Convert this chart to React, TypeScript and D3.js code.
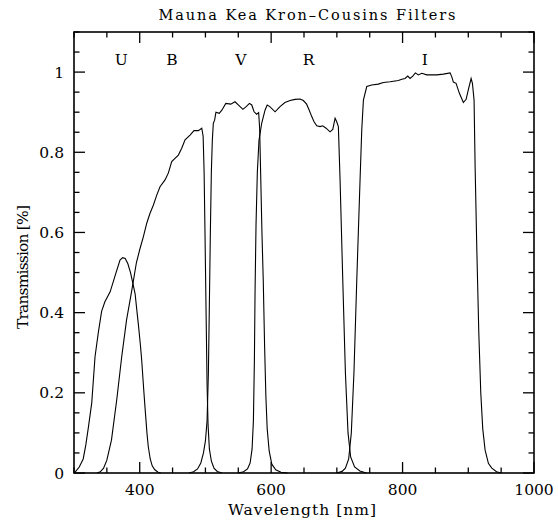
import React from "react";
import * as d3 from "d3";

const uFilter: [number, number][] = [
  [300, 0], [302, 0.003], [308, 0.015], [314, 0.035], [318, 0.07], [322, 0.115], [327, 0.175],
  [332, 0.29], [337, 0.35], [342, 0.403], [347, 0.427], [355, 0.452], [362, 0.489], [370, 0.531],
  [374, 0.537], [378, 0.535], [382, 0.522], [386, 0.5], [390, 0.47], [393, 0.447], [396, 0.4],
  [398, 0.37], [401, 0.32], [403, 0.282], [406, 0.21], [408, 0.165], [411, 0.1], [413, 0.066],
  [416, 0.035], [419, 0.018], [423, 0.008], [428, 0.002], [432, 0],
];

const bFilter: [number, number][] = [
  [335, 0], [340, 0.003], [345, 0.012], [350, 0.032], [357, 0.082], [365, 0.182], [372.6, 0.29],
  [380, 0.382], [388, 0.456], [395, 0.525], [400.5, 0.56], [405.5, 0.589], [410.7, 0.623],
  [415.7, 0.648], [420.7, 0.668], [425.9, 0.693], [430.9, 0.714], [438.5, 0.731], [443.5, 0.748],
  [448.7, 0.777], [453.7, 0.785], [458.8, 0.793], [463.9, 0.81], [469, 0.831], [476.6, 0.843],
  [482.6, 0.854], [489.2, 0.854], [494.4, 0.86], [496.5, 0.84], [498, 0.75], [499.5, 0.58],
  [501, 0.4], [502.5, 0.22], [504, 0.12], [506, 0.06], [509, 0.03], [513, 0.012], [518, 0.004],
  [525, 0],
];

const vFilter: [number, number][] = [
  [475, 0], [482, 0.003], [488, 0.01], [493, 0.025], [497, 0.05], [500, 0.08], [502.5, 0.13],
  [504.5, 0.25], [506, 0.42], [507.5, 0.6], [509, 0.75], [510.5, 0.83], [512, 0.872], [514, 0.88],
  [516, 0.9], [521, 0.897], [525, 0.905], [531, 0.922], [538.5, 0.92], [545, 0.926], [550, 0.918],
  [557, 0.907], [562, 0.914], [567, 0.922], [570.5, 0.918], [574, 0.901], [578, 0.895], [581, 0.899],
  [582.5, 0.86], [584, 0.75], [586, 0.6], [588, 0.48], [590, 0.32], [592, 0.19], [594, 0.11],
  [597, 0.055], [601, 0.022], [607, 0.008], [615, 0.002], [625, 0],
];

const rFilter: [number, number][] = [
  [550, 0], [558, 0.003], [564, 0.01], [568, 0.025], [571, 0.06], [573, 0.13], [574.5, 0.28],
  [575.5, 0.45], [577, 0.62], [579, 0.75], [581.5, 0.83], [585.7, 0.873], [590.7, 0.905],
  [594, 0.918], [598, 0.914], [606, 0.901], [613.5, 0.914], [621, 0.924], [628.8, 0.929],
  [636.4, 0.932], [644, 0.933], [649, 0.929], [654, 0.92], [658, 0.905], [661.8, 0.889],
  [665.3, 0.876], [669.4, 0.866], [674.4, 0.864], [678.5, 0.866], [683.6, 0.86], [689.6, 0.851],
  [693.8, 0.857], [697.3, 0.885], [699.8, 0.876], [702.3, 0.864], [704.9, 0.731], [709, 0.481],
  [713, 0.25], [717, 0.1], [721, 0.04], [727, 0.015], [735, 0.005], [745, 0],
];

const iFilter: [number, number][] = [
  [700, 0], [708, 0.004], [713, 0.012], [718, 0.035], [722, 0.1], [726, 0.25], [730.3, 0.481],
  [735.3, 0.731], [737.9, 0.856], [740.4, 0.93], [745.5, 0.964], [753, 0.968], [763, 0.97],
  [770.8, 0.974], [781, 0.976], [793.6, 0.979], [798.8, 0.982], [803.8, 0.984], [807.9, 0.99],
  [811.4, 0.984], [815.5, 0.99], [819.5, 0.998], [824, 0.993], [829.2, 0.997], [836.8, 0.993],
  [852, 0.993], [862, 0.995], [872.3, 0.998], [874.9, 0.988], [877.3, 0.975], [881.4, 0.972],
  [886.5, 0.947], [892.5, 0.924], [896.7, 0.932], [900.2, 0.957], [904.3, 0.984], [906.3, 0.972],
  [908.8, 0.93], [910.4, 0.764], [913, 0.556], [916, 0.35], [919, 0.2], [922, 0.11],
  [925.6, 0.057], [930.6, 0.024], [935.8, 0.012], [943, 0.003], [950, 0],
];

const filterNames = ["U", "B", "V", "R", "I"];
const filterLabelWave = [372, 449, 554, 657, 834];
const xTickLabels = [400, 600, 800, 1000];
const yTickLabels = [0, 0.2, 0.4, 0.6, 0.8, 1];

const title = "Mauna Kea Kron\u2013Cousins Filters";
const xTitle = "Wavelength [nm]";
const yTitle = "Transmission [%]";

const W = 558;
const H = 525;
const M = { left: 74, right: 24, top: 32, bottom: 52 };
const FONT = "'DejaVu Serif', serif";

export default function App() {
  const x = d3.scaleLinear().domain([300, 1000]).range([M.left, W - M.right]);
  const y = d3.scaleLinear().domain([0, 1.1]).range([H - M.bottom, M.top]);
  const line = d3
    .line<[number, number]>()
    .x((d) => x(d[0]))
    .y((d) => y(d[1]));

  const x0 = x(300), x1 = x(1000), y0 = y(0), y1 = y(1.1);
  const xMinor = d3.range(300, 1001, 50);
  const yMinor = d3.range(0, 1.1001, 0.05).map((v) => Math.round(v * 100) / 100);
  const isXMajor = (v: number) => v % 200 === 0;
  const isYMajor = (v: number) => Math.abs(Math.round(v * 100) % 20) === 0;
  const MAJ = 11, MIN = 5.5;

  const filters = [uFilter, bFilter, vFilter, rFilter, iFilter];

  return (
    <svg width={W} height={H} style={{ position: "absolute", left: 0, top: 0, background: "#fff" }}>
      <rect x={0} y={0} width={W} height={H} fill="#fff" />
      {filters.map((f, i) => (
        <path key={i} d={line(f) || ""} fill="none" stroke="#000" strokeWidth={1.1} />
      ))}
      <g stroke="#000" strokeWidth={1.3}>
        {xMinor.map((v) => {
          const L = isXMajor(v) ? MAJ : MIN;
          return (
            <g key={"xt" + v}>
              <line x1={x(v)} x2={x(v)} y1={y0} y2={y0 - L} />
              <line x1={x(v)} x2={x(v)} y1={y1} y2={y1 + L} />
            </g>
          );
        })}
        {yMinor.map((v) => {
          const L = isYMajor(v) ? MAJ : MIN;
          return (
            <g key={"yt" + v}>
              <line x1={x0} x2={x0 + L} y1={y(v)} y2={y(v)} />
              <line x1={x1} x2={x1 - L} y1={y(v)} y2={y(v)} />
            </g>
          );
        })}
      </g>
      <rect x={x0} y={y1} width={x1 - x0} height={y0 - y1} fill="none" stroke="#000" strokeWidth={1.6} />
      <g fontFamily={FONT} fontSize={15.5} fill="#000">
        {xTickLabels.map((v) => (
          <text key={"xl" + v} x={x(v)} y={495} textAnchor="middle">
            {v}
          </text>
        ))}
        {yTickLabels.map((v) => (
          <text key={"yl" + v} x={64} y={y(v) + 5.5} textAnchor="end">
            {v}
          </text>
        ))}
        {filterNames.map((n, i) => (
          <text key={n} x={x(filterLabelWave[i])} y={65} textAnchor="middle">
            {n}
          </text>
        ))}
        <text x={307} y={19.5} textAnchor="middle" fontSize={14.5} textLength={297} lengthAdjust="spacing">
          {title}
        </text>
        <text x={302} y={515} textAnchor="middle" textLength={148} lengthAdjust="spacing">
          {xTitle}
        </text>
        <text
          transform={`translate(28,267) rotate(-90)`}
          textAnchor="middle"
          textLength={124}
          lengthAdjust="spacing"
        >
          {yTitle}
        </text>
      </g>
    </svg>
  );
}
